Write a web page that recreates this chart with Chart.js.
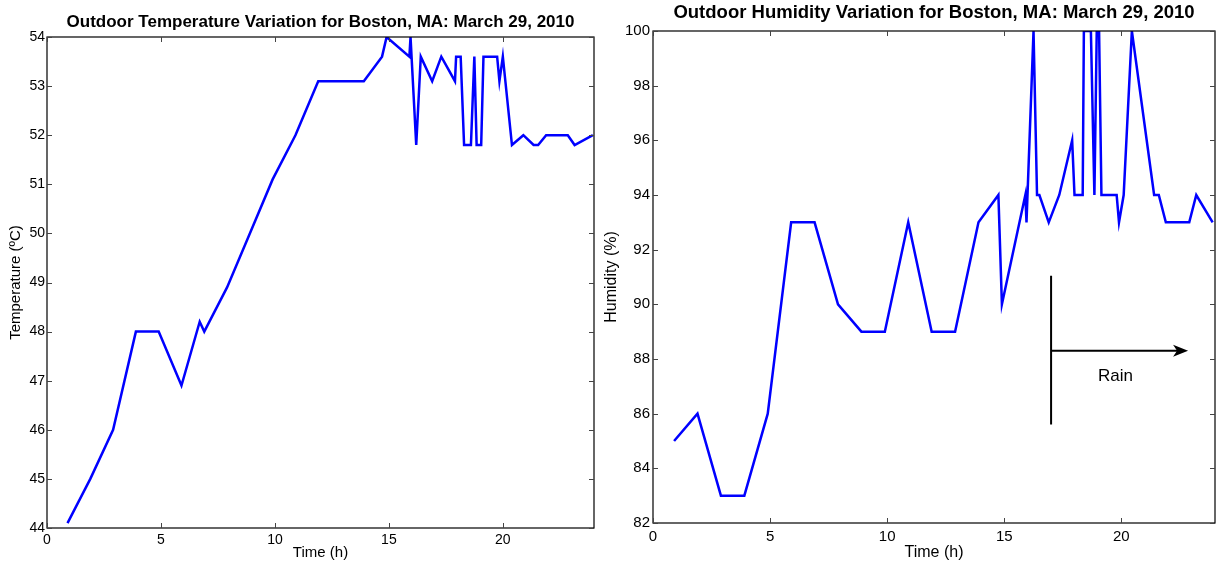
<!DOCTYPE html>
<html>
<head>
<meta charset="utf-8">
<script src="https://cdn.jsdelivr.net/npm/chart.js@4.4.0/dist/chart.umd.min.js"></script>
<style>
html, body { margin: 0; padding: 0; background: #fff; }
body { width: 1219px; height: 565px; position: relative; overflow: hidden; }
canvas { position: absolute; top: 0; }
#tempChart { left: 0; }
#humChart { left: 600px; }
</style>
</head>
<body>
<canvas id="tempChart" width="600" height="565"></canvas>
<canvas id="humChart" width="619" height="565"></canvas>
<script>
// Temperature readings (hour of day, degrees)
const tempHours = [0.9, 1.9, 2.9, 3.9, 4.9, 5.9, 6.7, 6.9, 7.9, 8.9, 9.9, 10.9, 11.9, 12.9, 13.9,
    14.7, 14.9, 15.9, 15.95, 16.2, 16.4, 16.9, 17.3, 17.9, 17.95, 18.15, 18.3, 18.6, 18.75, 18.85,
    19.05, 19.15, 19.75, 19.85, 20.0, 20.4, 20.9, 21.35, 21.55, 21.9, 22.85, 23.15, 23.95];
const tempValues = [44.1, 45.0, 46.0, 48.0, 48.0, 46.9, 48.2, 48.0, 48.9, 50.0, 51.1, 52.0, 53.1, 53.1, 53.1,
    53.6, 54.0, 53.6, 54.0, 51.8, 53.6, 53.1, 53.6, 53.1, 53.6, 53.6, 51.8, 51.8, 53.6, 51.8,
    51.8, 53.6, 53.6, 53.1, 53.6, 51.8, 52.0, 51.8, 51.8, 52.0, 52.0, 51.8, 52.0];

// Humidity readings (hour of day, percent)
const humHours = [0.9, 1.9, 2.9, 3.9, 4.9, 5.9, 6.9, 7.9, 8.9, 9.9, 10.9, 11.9, 12.9, 13.9,
    14.75, 14.9, 15.9, 15.95, 16.25, 16.4, 16.5, 16.9, 17.35, 17.9, 18.0, 18.35, 18.4, 18.7,
    18.85, 18.95, 19.05, 19.15, 19.8, 19.9, 20.1, 20.45, 21.4, 21.6, 21.9, 22.9, 23.2, 23.9];
const humValues = [85, 86, 83, 83, 86, 93, 93, 90, 89, 89, 93, 89, 89, 93,
    94, 90, 94, 93, 100, 94, 94, 93, 94, 96, 94, 94, 100, 100,
    94, 100, 100, 94, 94, 93, 94, 100, 94, 94, 93, 93, 94, 93];

// Axis ranges and ticks
const timeTicks = [0, 5, 10, 15, 20];
const timeMax = 24;
const tempTicks = [44, 45, 46, 47, 48, 49, 50, 51, 52, 53, 54];
const humTicks = [82, 84, 86, 88, 90, 92, 94, 96, 98, 100];

// Rain marker (data units)
const rainStart = 17;
const rainEnd = 22.85;
const rainBarLow = 85.6;
const rainBarHigh = 91.05;
const rainArrowY = 88.3;
const rainLabel = "Rain";
const rainLabelPos = [19.75, 87.35];

const FONT = "'Liberation Sans', Arial, Helvetica, sans-serif";

function toPoints(xs, ys) {
    return xs.map(function (x, i) { return { x: x, y: ys[i] }; });
}

// box around the axes, inward ticks on all four sides, and the title
const matlabBox = {
    id: "matlabBox",
    afterDatasetsDraw(chart, args, opts) {
        const ctx = chart.ctx;
        const a = chart.chartArea;
        const x = chart.scales.x, y = chart.scales.y;
        ctx.save();
        ctx.strokeStyle = "#000";
        ctx.lineWidth = 1.2;
        ctx.strokeRect(a.left, a.top, a.right - a.left, a.bottom - a.top);
        ctx.strokeStyle = "#444";
        ctx.lineWidth = 1;
        const len = 5;
        ctx.beginPath();
        x.ticks.forEach(function (t) {
            const px = Math.round(x.getPixelForValue(t.value)) + 0.5;
            ctx.moveTo(px, a.bottom); ctx.lineTo(px, a.bottom - len);
            ctx.moveTo(px, a.top); ctx.lineTo(px, a.top + len);
        });
        y.ticks.forEach(function (t) {
            const py = Math.round(y.getPixelForValue(t.value)) + 0.5;
            ctx.moveTo(a.left, py); ctx.lineTo(a.left + len, py);
            ctx.moveTo(a.right, py); ctx.lineTo(a.right - len, py);
        });
        ctx.stroke();

        ctx.fillStyle = "#000";
        ctx.font = "bold " + opts.size + "px " + FONT;
        ctx.textAlign = "center";
        ctx.textBaseline = "middle";
        ctx.fillText(opts.text, (a.left + a.right) / 2, opts.y);
        ctx.restore();
    }
};

const rainMarker = {
    id: "rainMarker",
    afterDatasetsDraw(chart) {
        const ctx = chart.ctx;
        const x = chart.scales.x, y = chart.scales.y;
        const x0 = x.getPixelForValue(rainStart);
        const x1 = x.getPixelForValue(rainEnd);
        const ya = y.getPixelForValue(rainArrowY);
        ctx.save();
        ctx.strokeStyle = "#000";
        ctx.fillStyle = "#000";
        ctx.lineWidth = 2;
        ctx.beginPath();
        ctx.moveTo(x0, y.getPixelForValue(rainBarHigh));
        ctx.lineTo(x0, y.getPixelForValue(rainBarLow));
        ctx.moveTo(x0, ya);
        ctx.lineTo(x1 - 6, ya);
        ctx.stroke();
        ctx.beginPath();
        ctx.moveTo(x1, ya);
        ctx.lineTo(x1 - 15, ya - 6);
        ctx.lineTo(x1 - 11, ya);
        ctx.lineTo(x1 - 15, ya + 6);
        ctx.closePath();
        ctx.fill();
        ctx.font = "17px " + FONT;
        ctx.textAlign = "center";
        ctx.textBaseline = "middle";
        ctx.fillText(rainLabel, x.getPixelForValue(rainLabelPos[0]), y.getPixelForValue(rainLabelPos[1]));
        ctx.restore();
    }
};

function makeOptions(cfg) {
    return {
        responsive: false,
        animation: false,
        events: [],
        layout: { padding: { left: 0, right: cfg.padRight, top: cfg.top, bottom: 0 } },
        plugins: {
            legend: { display: false },
            tooltip: { enabled: false },
            matlabBox: { text: cfg.title, size: cfg.titleSize, y: cfg.titleY }
        },
        scales: {
            x: {
                type: "linear",
                min: 0,
                max: timeMax,
                grid: { display: false, drawTicks: false, tickLength: 0 },
                border: { display: false },
                afterBuildTicks: function (scale) {
                    scale.ticks = timeTicks.map(function (v) { return { value: v }; });
                },
                afterFit: function (scale) { scale.height = cfg.xHeight; },
                ticks: {
                    padding: cfg.xTickPad,
                    color: "#000",
                    maxRotation: 0,
                    font: { family: FONT, size: cfg.tickSize }
                },
                title: {
                    display: true,
                    text: "Time (h)",
                    color: "#000",
                    padding: { top: 0, bottom: cfg.xTitlePad },
                    font: { family: FONT, size: cfg.labelSize }
                }
            },
            y: {
                min: cfg.yTicks[0],
                max: cfg.yTicks[cfg.yTicks.length - 1],
                grid: { display: false, drawTicks: false, tickLength: 0 },
                border: { display: false },
                afterBuildTicks: function (scale) {
                    scale.ticks = cfg.yTicks.map(function (v) { return { value: v }; });
                },
                afterFit: function (scale) { scale.width = cfg.yWidth; },
                ticks: {
                    padding: cfg.yTickPad,
                    color: "#000",
                    font: { family: FONT, size: cfg.tickSize }
                },
                title: {
                    display: true,
                    text: cfg.yLabel,
                    color: "#000",
                    padding: { top: cfg.yTitlePad, bottom: 0 },
                    font: { family: FONT, size: cfg.labelSize }
                }
            }
        }
    };
}

const lineStyle = {
    borderColor: "#0000FF",
    borderWidth: 2.5,
    pointRadius: 0,
    tension: 0,
    fill: false
};

new Chart(document.getElementById("tempChart"), {
    type: "line",
    data: { datasets: [Object.assign({ data: toPoints(tempHours, tempValues) }, lineStyle)] },
    options: makeOptions({
        title: "Outdoor Temperature Variation for Boston, MA: March 29, 2010",
        titleSize: 17, titleY: 22,
        top: 37, padRight: 6,
        xHeight: 37, yWidth: 47,
        tickSize: 14, labelSize: 15,
        xTickPad: 4, yTickPad: 2,
        xTitlePad: 3, yTitlePad: 7,
        yLabel: "Temperature (ºC)",
        yTicks: tempTicks
    }),
    plugins: [matlabBox]
});

new Chart(document.getElementById("humChart"), {
    type: "line",
    data: { datasets: [Object.assign({ data: toPoints(humHours, humValues) }, lineStyle)] },
    options: makeOptions({
        title: "Outdoor Humidity Variation for Boston, MA: March 29, 2010",
        titleSize: 18.5, titleY: 13,
        top: 31, padRight: 4,
        xHeight: 42, yWidth: 53,
        tickSize: 15, labelSize: 16,
        xTickPad: 5, yTickPad: 3,
        xTitlePad: 3, yTitlePad: 2,
        yLabel: "Humidity (%)",
        yTicks: humTicks
    }),
    plugins: [matlabBox, rainMarker]
});
</script>
</body>
</html>
